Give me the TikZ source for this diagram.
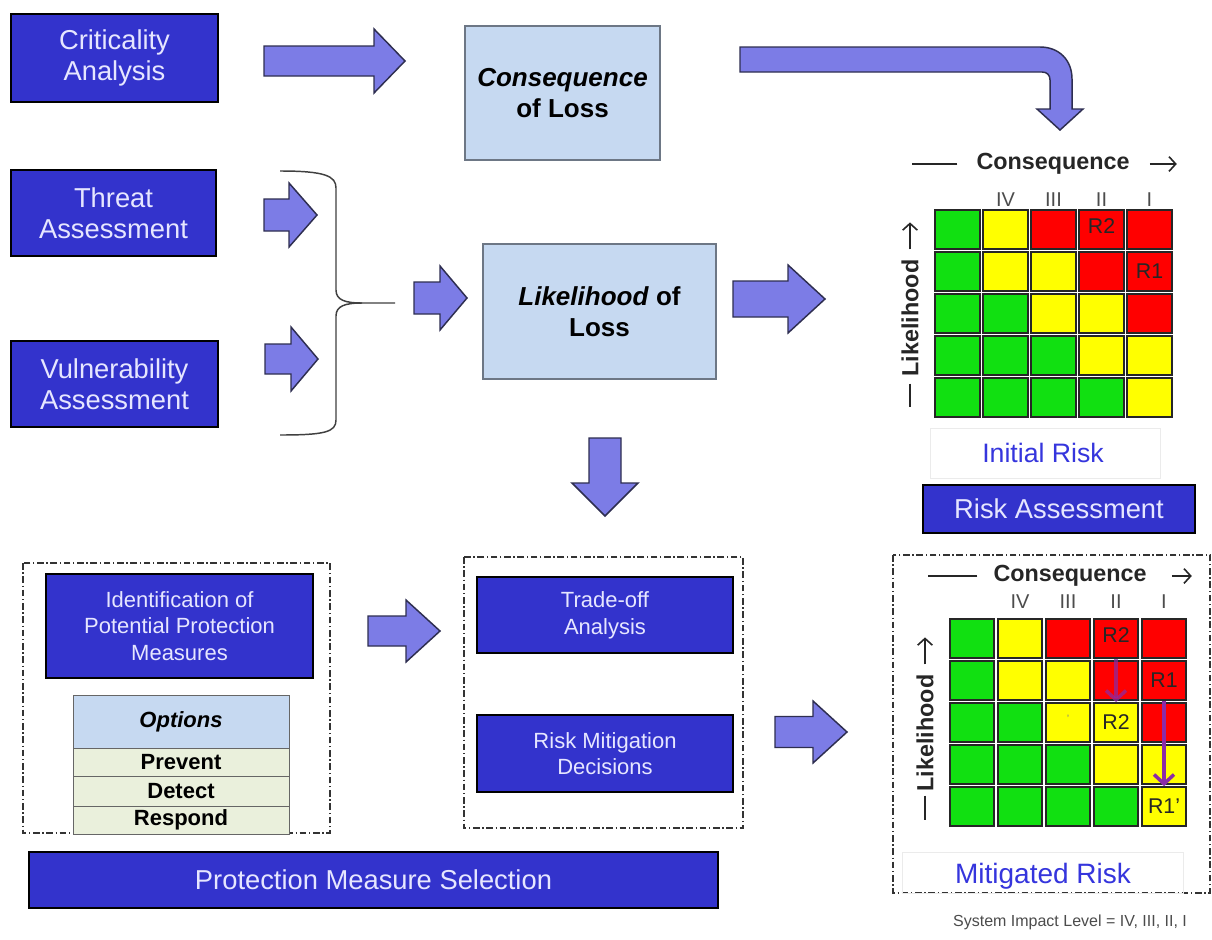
\documentclass[tikz,border=0pt]{standalone}
\usepackage{fontspec}
\setmainfont{Liberation Sans}
\usetikzlibrary{calc,arrows.meta}

\definecolor{boxblue}{HTML}{3333CC}
\definecolor{boxtext}{HTML}{E6E6FF}
\definecolor{arrowfill}{HTML}{7C7CE6}
\definecolor{arrowline}{HTML}{2E2E50}
\definecolor{paleblue}{HTML}{C6D9F1}
\definecolor{palegreen}{HTML}{EAF0DC}
\definecolor{cellg}{HTML}{11E011}
\definecolor{celly}{HTML}{FFFF00}
\definecolor{cellr}{HTML}{FF0000}
\definecolor{riskblue}{HTML}{3535DD}
\definecolor{mitarrow}{HTML}{8A2BA8}

\newcommand{\pxfont}[2]{\fontsize{#1pt}{#2pt}\selectfont}

% rectangle node given by its corners: style, x1, y1, x2, y2, name, text
\newcommand{\boxnode}[7]{%
  \node[#1, minimum width={(#4-#2)*0.75pt}, minimum height={(#5-#3)*0.75pt}]
    (#6) at ({(#2+#4)/2},{(#3+#5)/2}) {#7};}

% right-pointing block arrow: tail x, tip x, centre y, shaft half, head half, head start x
\newcommand{\rblock}[6]{%
  \draw[blk] (#1,#3-#4) -- (#6,#3-#4) -- (#6,#3-#5) -- (#2,#3) -- (#6,#3+#5)
    -- (#6,#3+#4) -- (#1,#3+#4) -- cycle;}

% 5x5 risk grid: name, left x, top y, cell width (pt), cell height (pt), cell width (units)
\newcommand{\riskgrid}[6]{%
  \foreach \cols [count=\r] in {{g,y,r,r,r},{g,y,y,r,r},{g,g,y,y,r},{g,g,g,y,y},{g,g,g,g,y}} {
    \foreach \col [count=\c] in \cols {
      \node[cellbox, fill=cell\col, minimum width=#4, minimum height=#5]
        (#1-\r-\c) at ({#2+(\c-1)*48+#6/2},{#3+(\r-1)*42+19.5}) {};
    }
  }}

\tikzset{
  darkbox/.style={draw=black, line width=2.2pt, fill=boxblue, text=boxtext,
    inner sep=0pt, align=center, font=\pxfont{20.5}{23.5}},
  smallbox/.style={darkbox, font=\pxfont{16.5}{20}},
  lightbox/.style={draw=paleblue!55!black, line width=0.8pt, fill=paleblue,
    inner sep=0pt, align=center, text=black, font=\pxfont{19.5}{23.5}\bfseries},
  blk/.style={draw=arrowline, line width=1.1pt, fill=arrowfill, line join=miter},
  grp/.style={draw=black!80, line width=1pt, dash pattern=on 5pt off 2pt on 1pt off 2pt},
  cellbox/.style={draw=black!85, line width=1.2pt, inner sep=0pt},
  optrow/.style={draw=black!60, line width=0.6pt, inner sep=0pt, text=black,
    font=\pxfont{16.5}{18}\bfseries},
  hdr/.style={inner sep=0pt, text=black!85, font=\pxfont{17.5}{19}\bfseries},
  hdrline/.style={draw=black!85, line width=1.2pt},
  hdrarrow/.style={hdrline, -{Straight Barb[length=5pt,width=11pt]}},
  numeral/.style={inner sep=0pt, text=black!70, font=\pxfont{15}{16}},
  rlabel/.style={inner sep=0pt, text=black!85, font=\pxfont{16}{17}},
  caption/.style={inner sep=0pt, text=riskblue, font=\pxfont{20}{22}},
  faint/.style={draw=black!8, line width=0.6pt},
  mitig/.style={draw=mitarrow, line width=2.6pt, -{Straight Barb[length=7pt,width=15pt]}},
}

\begin{document}
\begin{tikzpicture}[x=0.75pt, y=-0.75pt]
\fill[white] (0,0) rectangle (1212,939);
\useasboundingbox (0,0) rectangle (1212,939);

% ---------- input analyses ----------
\boxnode{darkbox}{11}{14}{218}{102}{crit}{Criticality\\Analysis}
\boxnode{darkbox}{11}{170}{216}{256}{threat}{Threat\\Assessment}
\boxnode{darkbox}{11}{341}{218}{427}{vuln}{Vulnerability\\Assessment}

\boxnode{lightbox}{465}{26}{660}{160}{conseq}{\textit{Consequence}\\of Loss}
\boxnode{lightbox}{483}{244}{716}{379}{likel}{\textit{Likelihood} of\\Loss}

% block arrows of the upper flow
\rblock{264}{405}{61}{15}{32}{374}
\rblock{264}{317}{215}{16}{32}{289}
\rblock{265}{318}{359}{15}{32}{291}
\rblock{414}{467}{298}{16}{32}{440}
\rblock{733}{825}{299}{18}{34}{788}

% bent arrow towards the initial risk grid
\draw[blk] (740,47) -- (1040,47) .. controls (1059,47) and (1072,60) .. (1072,79)
  -- (1072,109) -- (1083,109) -- (1060,130) -- (1037,109) -- (1050,109)
  -- (1050,80) .. controls (1050,75) and (1047,72) .. (1042,72) -- (740,72) -- cycle;

% brace joining threat and vulnerability
\draw[draw=black!75, line width=1.1pt]
  (280,171) .. controls (325,171) and (336,176) .. (336,188) -- (336,290)
  .. controls (336,300) and (345,303) .. (362,303) -- (395,303);
\draw[draw=black!75, line width=1.1pt]
  (362,303) .. controls (345,303) and (336,306) .. (336,316) -- (336,420)
  .. controls (336,432) and (325,435) .. (280,435);

% arrow down to protection measures
\draw[blk] (589,438) -- (621,438) -- (621,483) -- (638,483) -- (605,516)
  -- (572,483) -- (589,483) -- cycle;

% ---------- initial risk ----------
\riskgrid{ig}{935}{210}{33.75pt}{29.25pt}{45}
\node[rlabel] at ($(ig-1-4)+(0,-3)$) {R2};
\node[rlabel] at (ig-2-5) {R1};
\foreach \c/\t in {2/IV,3/III,4/II,5/I}
  \node[numeral] at ($(ig-1-\c.north)+(0,-10)$) {\t};
\node[hdr] (ich) at (1053,164) {Consequence};
\draw[hdrline] ($(ich.west)+(-19,0)$) -- +(-45,0);
\draw[hdrarrow] ($(ich.east)+(20,0)$) -- +(27,0);
\node[hdr, rotate=90] (ilh) at (910,318) {Likelihood};
\draw[hdrline] ($(ilh.west)+(0,7)$) -- +(0,23);
\draw[hdrarrow] ($(ilh.east)+(0,-10)$) -- +(0,-27);
\draw[faint] (930,428) rectangle (1160,478);
\node[caption] (icap) at (1043,453) {Initial Risk};

\boxnode{darkbox, font=\pxfont{20.5}{22}}{923}{485}{1195}{533}{riskass}{Risk Assessment}

% ---------- protection measure identification ----------
\draw[grp] (23,563) rectangle (330,833);
\boxnode{smallbox}{46}{574}{313}{678}{ident}{Identification of\\Potential Protection\\Measures}
\boxnode{optrow, fill=paleblue}{73}{695}{289}{748}{opthead}{\textit{Options}}
\boxnode{optrow, fill=palegreen}{73}{748}{289}{776}{prevent}{Prevent}
\boxnode{optrow, fill=palegreen}{73}{776}{289}{806}{detect}{Detect}
\boxnode{optrow, fill=palegreen}{73}{806}{289}{834}{respond}{Respond}

\rblock{368}{440}{631}{15}{31}{406}

% ---------- trade-off and decisions ----------
\draw[grp] (464,557) rectangle (743,828);
\boxnode{smallbox}{477}{577}{733}{653}{trade}{Trade-off\\Analysis}
\boxnode{smallbox}{477}{715}{733}{792}{decide}{Risk Mitigation\\Decisions}

\rblock{775}{847}{732}{15.5}{31}{813}

\boxnode{darkbox, font=\pxfont{20.5}{22}}{29}{852}{718}{908}{select}{Protection Measure Selection}

% ---------- mitigated risk ----------
\draw[grp] (893,555) rectangle (1210,893);
\riskgrid{mg}{950}{619}{33pt}{29.25pt}{44}
\node[rlabel] at ($(mg-1-4)+(0,-3)$) {R2};
\node[rlabel] at (mg-2-5) {R1};
\node[rlabel] at (mg-3-4) {R2};
\node[rlabel] at (mg-5-5) {R1'};
\node[inner sep=0pt, text=black!50, font=\pxfont{8}{8}] at ($(mg-3-3)+(0,-4)$) {'};
\draw[mitig, opacity=0.7] (mg-1-4.south) -- (mg-3-4.north);
\draw[mitig] (mg-2-5.south) -- (mg-5-5.north);
\foreach \c/\t in {2/IV,3/III,4/II,5/I}
  \node[numeral] at ($(mg-1-\c.north)+(0,-17)$) {\t};
\node[hdr] (mch) at (1070,576) {Consequence};
\draw[hdrline] ($(mch.west)+(-16,0)$) -- +(-49,0);
\draw[hdrarrow] ($(mch.east)+(25,0)$) -- +(20,0);
\node[hdr, rotate=90] (mlh) at (925,733) {Likelihood};
\draw[hdrline] ($(mlh.west)+(0,4)$) -- +(0,24);
\draw[hdrarrow] ($(mlh.east)+(0,-10)$) -- +(0,-27);
\draw[faint] (902,852) rectangle (1183,893);
\node[caption, font=\pxfont{21}{23}] (mcap) at (1043,876) {Mitigated Risk};

\node[inner sep=0pt, text=black!70, font=\pxfont{12}{13}] (impact) at (1070,922)
  {System Impact Level = IV, III, II, I};

\end{tikzpicture}
\end{document}
